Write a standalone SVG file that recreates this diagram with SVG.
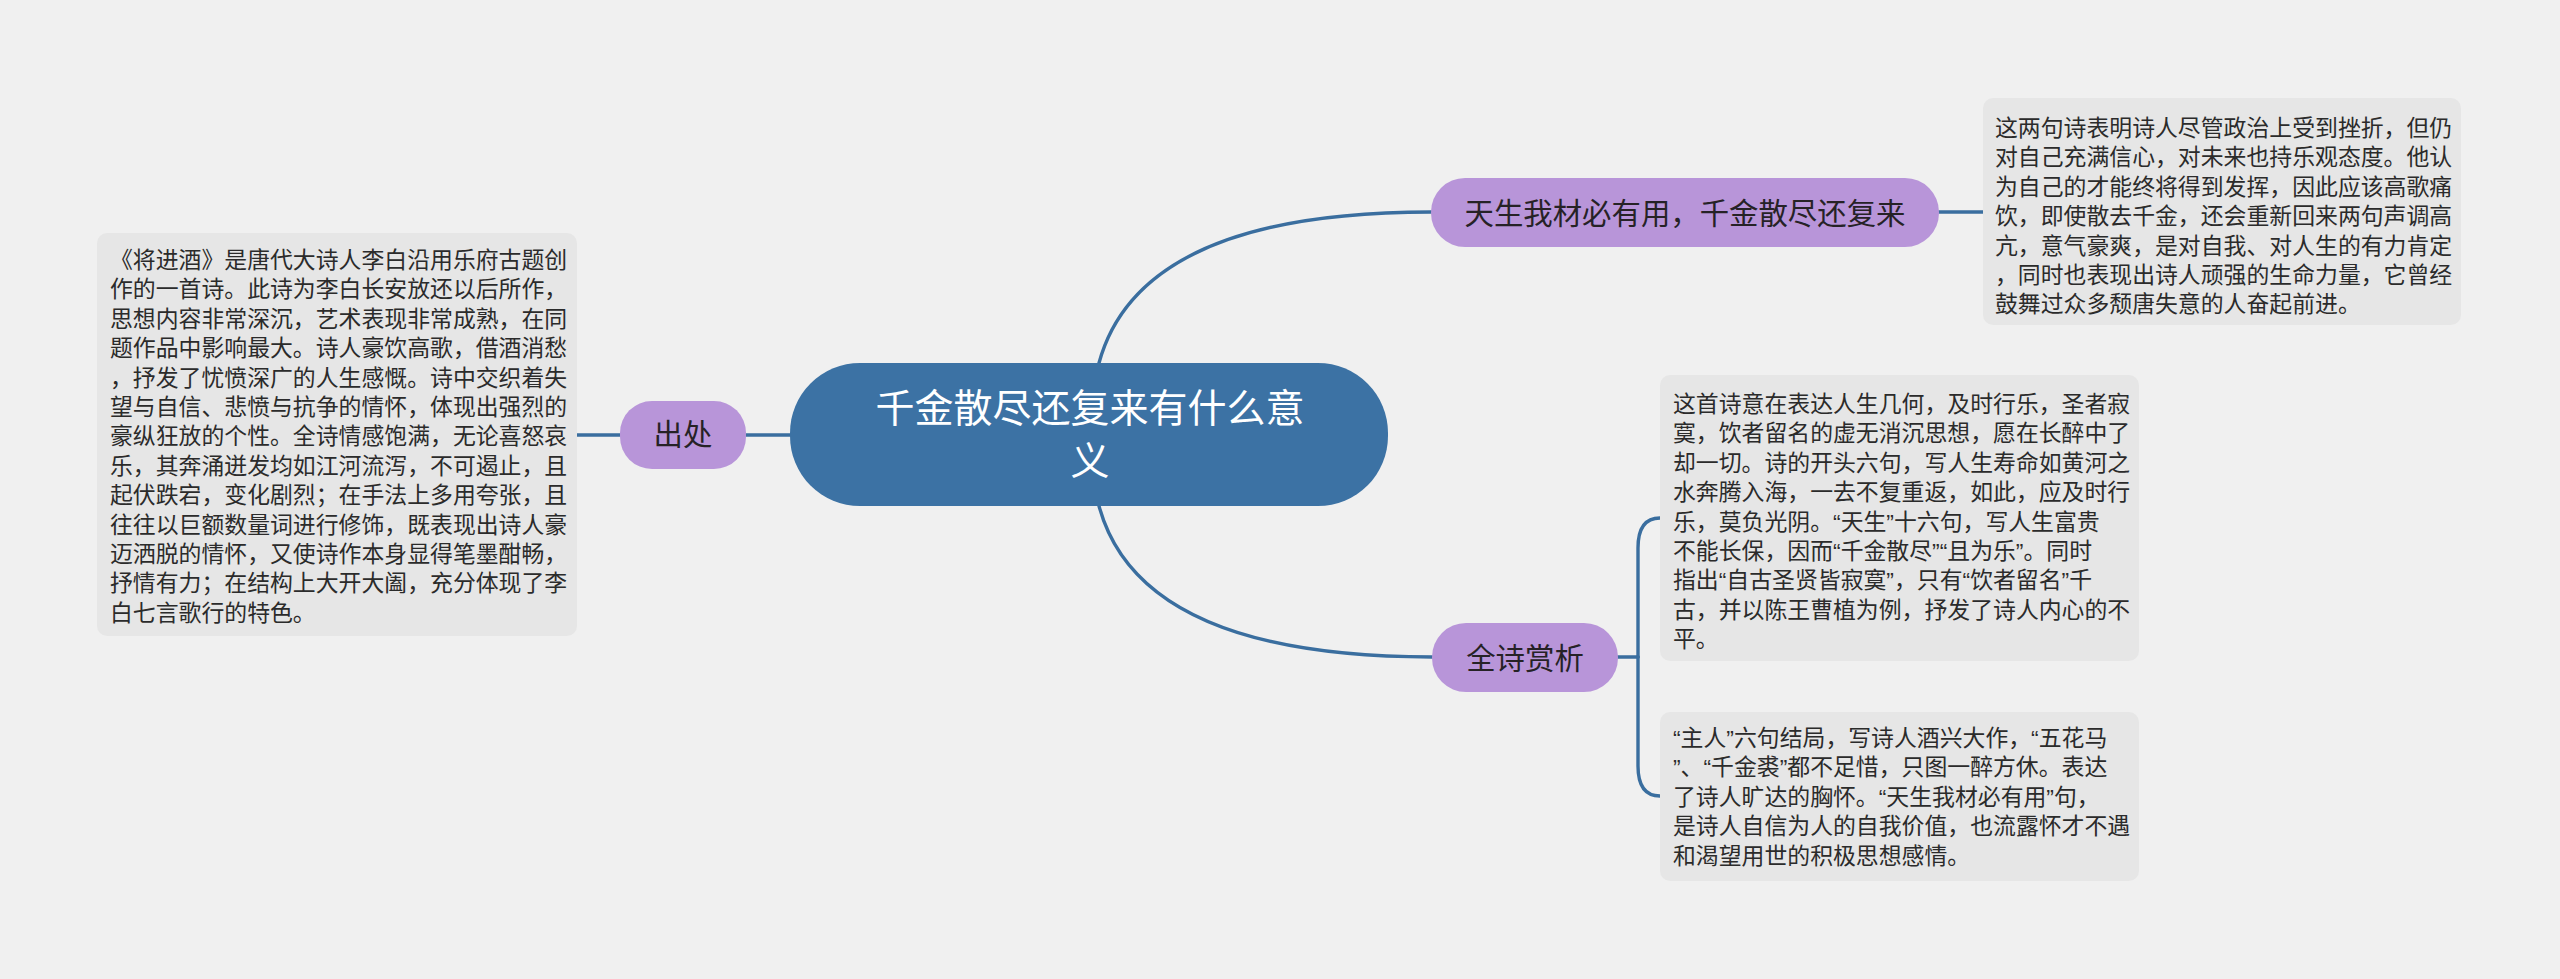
<svg xmlns="http://www.w3.org/2000/svg" width="2560" height="979" viewBox="0 0 2560 979">
<style>
.bg{fill:#f0f0f0}
.conn{fill:none;stroke:#3a6e9f;stroke-width:3.4;stroke-linecap:round}
.main{fill:#3c72a4}
.sub{fill:#b895d9}
.box{fill:#e6e6e6}
.t{font-family:"Liberation Sans","Noto Sans CJK SC",sans-serif}
.mt{font-size:39px;fill:#ffffff;text-anchor:middle}
.st{font-size:29.4px;fill:#262226;text-anchor:middle}
.bt{font-size:22.86px;fill:#2b2b2b}
</style>
<rect class="bg" x="0" y="0" width="2560" height="979"/>
<g id="connectors">
<path class="conn" d="M1099,363 Q1140,212 1431,212"/>
<path class="conn" d="M1099,506 Q1140,657 1432,657"/>
<path class="conn" d="M790,435 L746,435"/>
<path class="conn" d="M620,435 L577,435"/>
<path class="conn" d="M1939,212 L1983,212"/>
<path class="conn" d="M1618,657 L1638,657"/>
<path class="conn" d="M1638,657 L1638,548 Q1638,518 1660,518"/>
<path class="conn" d="M1638,657 L1638,766 Q1638,796 1660,796"/>
</g>
<g id="root">
<rect class="main" x="790" y="363" width="598" height="143" rx="70" ry="70"/>
<text class="t mt" x="1090" y="422">千金散尽还复来有什么意</text>
<text class="t mt" x="1090" y="475">义</text>
</g>
<g id="node-chuchu">
<rect class="sub" x="620" y="401" width="126" height="68" rx="32" ry="32"/>
<text class="t st" x="683" y="445">出处</text>
</g>
<g id="node-tiansheng">
<rect class="sub" x="1431" y="178" width="508" height="69" rx="34" ry="34"/>
<text class="t st" x="1685" y="224">天生我材必有用，千金散尽还复来</text>
</g>
<g id="node-shangxi">
<rect class="sub" x="1432" y="623" width="186" height="69" rx="34" ry="34"/>
<text class="t st" x="1525" y="669">全诗赏析</text>
</g>
<g id="box-chuchu">
<rect class="box" x="97" y="233" width="480" height="403" rx="10" ry="10"/>
<text class="t bt">
<tspan x="110" y="268">《将进酒》是唐代大诗人李白沿用乐府古题创</tspan>
<tspan x="110" y="297.4">作的一首诗。此诗为李白长安放还以后所作，</tspan>
<tspan x="110" y="326.8">思想内容非常深沉，艺术表现非常成熟，在同</tspan>
<tspan x="110" y="356.2">题作品中影响最大。诗人豪饮高歌，借酒消愁</tspan>
<tspan x="110" y="385.6">，抒发了忧愤深广的人生感慨。诗中交织着失</tspan>
<tspan x="110" y="415">望与自信、悲愤与抗争的情怀，体现出强烈的</tspan>
<tspan x="110" y="444.4">豪纵狂放的个性。全诗情感饱满，无论喜怒哀</tspan>
<tspan x="110" y="473.8">乐，其奔涌迸发均如江河流泻，不可遏止，且</tspan>
<tspan x="110" y="503.2">起伏跌宕，变化剧烈；在手法上多用夸张，且</tspan>
<tspan x="110" y="532.6">往往以巨额数量词进行修饰，既表现出诗人豪</tspan>
<tspan x="110" y="562">迈洒脱的情怀，又使诗作本身显得笔墨酣畅，</tspan>
<tspan x="110" y="591.4">抒情有力；在结构上大开大阖，充分体现了李</tspan>
<tspan x="110" y="620.8">白七言歌行的特色。</tspan>
</text>
</g>
<g id="box-tiansheng">
<rect class="box" x="1983" y="98" width="478" height="227" rx="10" ry="10"/>
<text class="t bt">
<tspan x="1995" y="136">这两句诗表明诗人尽管政治上受到挫折，但仍</tspan>
<tspan x="1995" y="165.4">对自己充满信心，对未来也持乐观态度。他认</tspan>
<tspan x="1995" y="194.8">为自己的才能终将得到发挥，因此应该高歌痛</tspan>
<tspan x="1995" y="224.2">饮，即使散去千金，还会重新回来两句声调高</tspan>
<tspan x="1995" y="253.6">亢，意气豪爽，是对自我、对人生的有力肯定</tspan>
<tspan x="1995" y="283">，同时也表现出诗人顽强的生命力量，它曾经</tspan>
<tspan x="1995" y="312.4">鼓舞过众多颓唐失意的人奋起前进。</tspan>
</text>
</g>
<g id="box-shangxi-1">
<rect class="box" x="1660" y="375" width="479" height="286" rx="10" ry="10"/>
<text class="t bt">
<tspan x="1673" y="412">这首诗意在表达人生几何，及时行乐，圣者寂</tspan>
<tspan x="1673" y="441.4">寞，饮者留名的虚无消沉思想，愿在长醉中了</tspan>
<tspan x="1673" y="470.8">却一切。诗的开头六句，写人生寿命如黄河之</tspan>
<tspan x="1673" y="500.2">水奔腾入海，一去不复重返，如此，应及时行</tspan>
<tspan x="1673" y="529.6">乐，莫负光阴。“天生”十六句，写人生富贵</tspan>
<tspan x="1673" y="559">不能长保，因而“千金散尽”“且为乐”。同时</tspan>
<tspan x="1673" y="588.4">指出“自古圣贤皆寂寞”，只有“饮者留名”千</tspan>
<tspan x="1673" y="617.8">古，并以陈王曹植为例，抒发了诗人内心的不</tspan>
<tspan x="1673" y="647.2">平。</tspan>
</text>
</g>
<g id="box-shangxi-2">
<rect class="box" x="1660" y="712" width="479" height="169" rx="10" ry="10"/>
<text class="t bt">
<tspan x="1673" y="746">“主人”六句结局，写诗人酒兴大作，“五花马</tspan>
<tspan x="1673" y="775.4">”、“千金裘”都不足惜，只图一醉方休。表达</tspan>
<tspan x="1673" y="804.8">了诗人旷达的胸怀。“天生我材必有用”句，</tspan>
<tspan x="1673" y="834.2">是诗人自信为人的自我价值，也流露怀才不遇</tspan>
<tspan x="1673" y="863.6">和渴望用世的积极思想感情。</tspan>
</text>
</g>
</svg>
